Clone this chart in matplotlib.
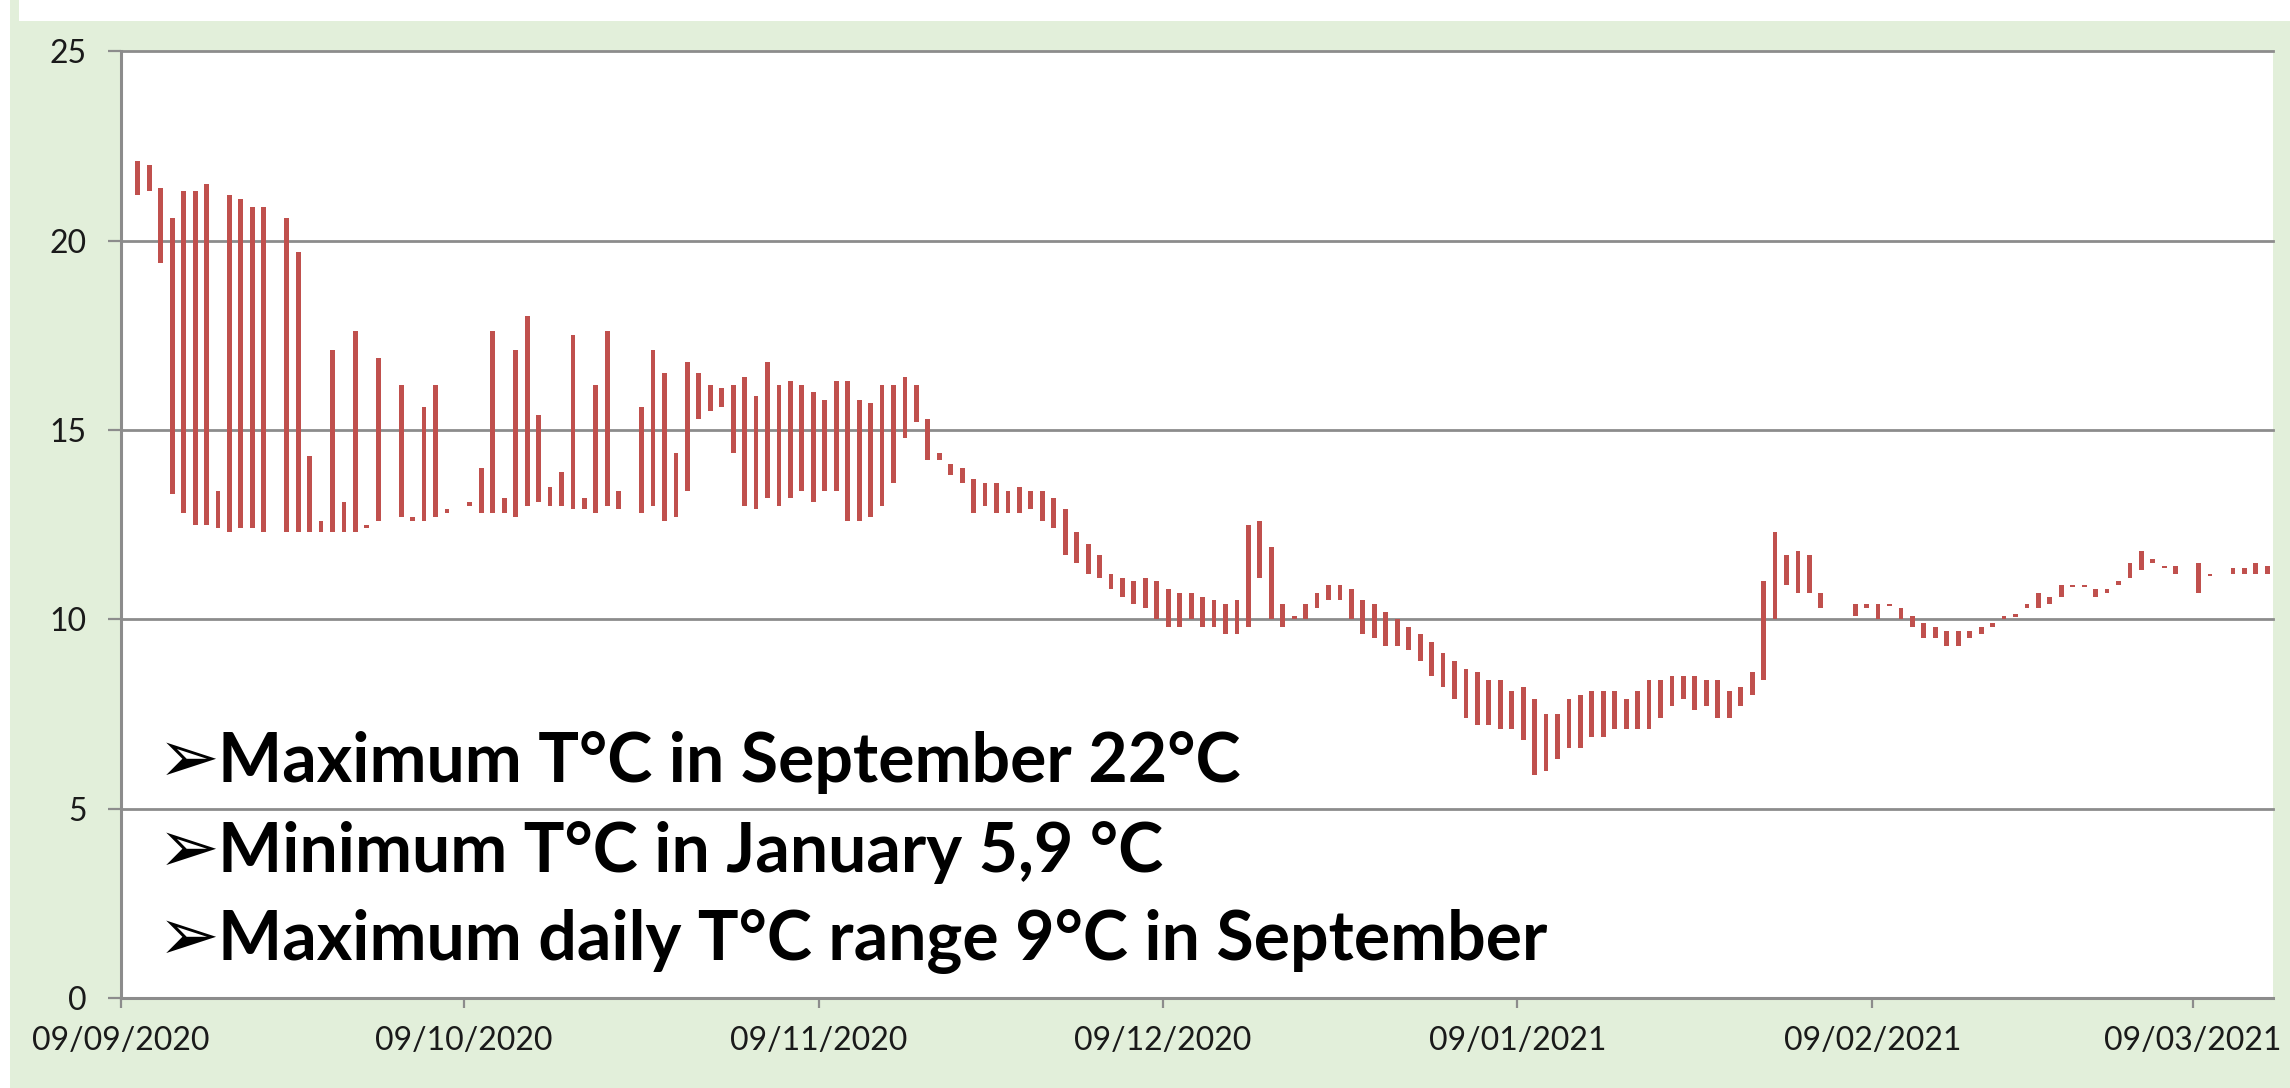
import numpy as np
import pandas as pd
import matplotlib.pyplot as plt
import matplotlib.dates as mdates
from matplotlib.patches import Rectangle

# daily min / max water temperature, one value per day from 10/09/2020
# (nan = no record that day)
start_day = "2020-09-10"
nan = np.nan

t_min = [21.2, 21.3, 19.4, 13.3, 12.8, 12.5, 12.5, 12.4, 12.3, 12.4,
         12.4, 12.3, nan, 12.3, 12.3, 12.3, 12.3, 12.3, 12.3, 12.3,
         12.4, 12.6, nan, 12.7, 12.6, 12.6, 12.7, 12.8, nan, 13.0,
         12.8, 12.8, 12.8, 12.7, 13.0, 13.1, 13.0, 13.0, 12.9, 12.9,
         12.8, 13.0, 12.9, nan, 12.8, 13.0, 12.6, 12.7, 13.4, 15.3,
         15.5, 15.6, 14.4, 13.0, 12.9, 13.2, 13.0, 13.2, 13.4, 13.1,
         13.4, 13.4, 12.6, 12.6, 12.7, 13.0, 13.6, 14.8, 15.2, 14.2,
         14.2, 13.8, 13.6, 12.8, 13.0, 12.8, 12.8, 12.8, 12.9, 12.6,
         12.4, 11.7, 11.5, 11.2, 11.1, 10.8, 10.6, 10.4, 10.3, 10.0,
         9.8, 9.8, 10.0, 9.8, 9.8, 9.6, 9.6, 9.8, 11.1, 10.0,
         9.8, 10.0, 10.0, 10.3, 10.5, 10.5, 10.0, 9.6, 9.5, 9.3,
         9.3, 9.2, 8.9, 8.5, 8.2, 7.9, 7.4, 7.2, 7.2, 7.1,
         7.1, 6.8, 5.9, 6.0, 6.3, 6.6, 6.6, 6.9, 6.9, 7.1,
         7.1, 7.1, 7.1, 7.4, 7.7, 7.9, 7.6, 7.7, 7.4, 7.4,
         7.7, 8.0, 8.4, 10.0, 10.9, 10.7, 10.7, 10.3, nan, nan,
         10.1, 10.3, 10.0, 10.35, 10.0, 9.8, 9.5, 9.5, 9.3, 9.3,
         9.5, 9.6, 9.8, 10.0, 10.05, 10.3, 10.3, 10.4, 10.6, 10.85,
         10.85, 10.6, 10.7, 10.9, 11.1, 11.3, 11.5, 11.35, 11.2, nan,
         10.7, 11.15, nan, 11.2, 11.2, 11.2, 11.2]

t_max = [22.1, 22.0, 21.4, 20.6, 21.3, 21.3, 21.5, 13.4, 21.2, 21.1,
         20.9, 20.9, nan, 20.6, 19.7, 14.3, 12.6, 17.1, 13.1, 17.6,
         12.5, 16.9, nan, 16.2, 12.7, 15.6, 16.2, 12.9, nan, 13.1,
         14.0, 17.6, 13.2, 17.1, 18.0, 15.4, 13.5, 13.9, 17.5, 13.2,
         16.2, 17.6, 13.4, nan, 15.6, 17.1, 16.5, 14.4, 16.8, 16.5,
         16.2, 16.1, 16.2, 16.4, 15.9, 16.8, 16.2, 16.3, 16.2, 16.0,
         15.8, 16.3, 16.3, 15.8, 15.7, 16.2, 16.2, 16.4, 16.2, 15.3,
         14.4, 14.1, 14.0, 13.7, 13.6, 13.6, 13.4, 13.5, 13.4, 13.4,
         13.2, 12.9, 12.3, 12.0, 11.7, 11.2, 11.1, 11.0, 11.1, 11.0,
         10.8, 10.7, 10.7, 10.6, 10.5, 10.4, 10.5, 12.5, 12.6, 11.9,
         10.4, 10.1, 10.4, 10.7, 10.9, 10.9, 10.8, 10.5, 10.4, 10.2,
         10.0, 9.8, 9.6, 9.4, 9.1, 8.9, 8.7, 8.6, 8.4, 8.4,
         8.1, 8.2, 7.9, 7.5, 7.5, 7.9, 8.0, 8.1, 8.1, 8.1,
         7.9, 8.1, 8.4, 8.4, 8.5, 8.5, 8.5, 8.4, 8.4, 8.1,
         8.2, 8.6, 11.0, 12.3, 11.7, 11.8, 11.7, 10.7, nan, nan,
         10.4, 10.4, 10.4, 10.41, 10.3, 10.1, 9.9, 9.8, 9.7, 9.7,
         9.7, 9.8, 9.9, 10.1, 10.13, 10.4, 10.7, 10.6, 10.9, 10.91,
         10.91, 10.8, 10.8, 11.0, 11.5, 11.8, 11.6, 11.41, 11.4, nan,
         11.5, 11.2, nan, 11.35, 11.35, 11.5, 11.4]

tick_dates = ["2020-09-09", "2020-10-09", "2020-11-09", "2020-12-09",
              "2021-01-09", "2021-02-09", "2021-03-09"]
axis_start, axis_end = "2020-09-09", "2021-03-16"

notes = ["Maximum T°C in September 22°C",
         "Minimum T°C in January 5,9 °C",
         "Maximum daily T°C range 9°C in September"]

bar_red = "#C0504D"
grid_grey = "#8C8C8C"
page_green = "#E2EFDA"

plt.rcParams["font.family"] = ["Lato", "DejaVu Sans"]

fig = plt.figure(figsize=(22.9, 10.88), dpi=100, facecolor=page_green)
# white strips left over from the slide around the chart
fig.patches.append(Rectangle((0, 0), 10 / 2290, 1, transform=fig.transFigure,
                             facecolor="white", edgecolor="none", zorder=0))
fig.patches.append(Rectangle((19 / 2290, 1 - 21 / 1088), 1, 21 / 1088,
                             transform=fig.transFigure, facecolor="white",
                             edgecolor="none", zorder=0))

ax = fig.add_axes([0.0527, 0.0827, 0.9399, 0.8702])
ax.set_facecolor("white")

days = pd.date_range(start_day, periods=len(t_min), freq="D")
x = mdates.date2num(days) + 0.5
lo = np.array(t_min, dtype=float)
hi = np.array(t_max, dtype=float)
ok = ~np.isnan(lo)
ax.bar(x[ok], hi[ok] - lo[ok], bottom=lo[ok], width=0.42,
       color=bar_red, edgecolor="none", zorder=3)

ax.set_xlim(mdates.date2num(pd.Timestamp(axis_start)),
            mdates.date2num(pd.Timestamp(axis_end)))
ax.set_ylim(0, 25)
ax.set_yticks(range(0, 26, 5))
ticks = pd.to_datetime(tick_dates)
ax.set_xticks(mdates.date2num(ticks))
ax.set_xticklabels([t.strftime("%d/%m/%Y") for t in ticks])

for y in range(5, 26, 5):
    ax.axhline(y, color=grid_grey, lw=2.0, zorder=1, clip_on=False)

for side in ["top", "right"]:
    ax.spines[side].set_visible(False)
for side in ["left", "bottom"]:
    ax.spines[side].set_color(grid_grey)
    ax.spines[side].set_linewidth(2.2)

ax.tick_params(axis="y", direction="out", length=9.5, width=1.6,
               color=grid_grey, pad=15, labelsize=23, labelcolor="#1a1a1a")
ax.tick_params(axis="x", direction="out", length=7, width=1.6,
               color=grid_grey, pad=13, labelsize=23, labelcolor="#1a1a1a")

baselines = [782, 872, 960]
for txt, yb in zip(notes, baselines):
    fig.text(158 / 2290, 1 - yb / 1088, "➢", fontsize=53,
             family="DejaVu Sans", va="baseline", ha="left", color="black")
    fig.text(218 / 2290, 1 - yb / 1088, txt, fontsize=49,
             fontweight="bold", va="baseline", ha="left", color="black")

fig.savefig("out.png", dpi=100, facecolor=page_green)
